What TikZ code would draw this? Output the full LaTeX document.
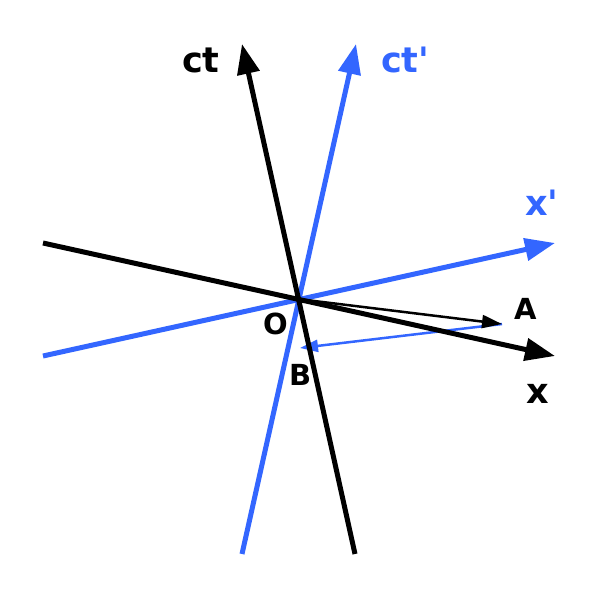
\documentclass[tikz,border=0pt]{standalone}
\usepackage{fontspec}
\newfontfamily\lblfont{DejaVu Sans}
\usetikzlibrary{arrows.meta}
\definecolor{axblue}{RGB}{51,102,255}
\tikzset{
  thickaxis/.style={line width=5pt, -{Triangle[length=30pt,width=22pt]}},
  thinvec/.style={line width=2.5pt, -{Triangle[length=20pt,width=13pt]}},
  lbl/.style={anchor=base west, inner sep=0pt, font=\lblfont\bfseries\fontsize{35pt}{35pt}\selectfont},
  ptlbl/.style={anchor=base west, inner sep=0pt, font=\lblfont\bfseries\fontsize{29pt}{29pt}\selectfont}
}
\begin{document}
\begin{tikzpicture}[x=1pt,y=-1pt]
\useasboundingbox (0,0) rectangle (600,600);
\coordinate (O) at (298,299);
\coordinate (ctS) at (355,554);
\coordinate (ctE) at (242,44);
\coordinate (xS) at (43,243);
\coordinate (xE) at (555,356);
\coordinate (cpS) at (242,554);
\coordinate (cpE) at (356,44);
\coordinate (xpS) at (43,356);
\coordinate (xpE) at (555,243);
\coordinate (A) at (502,324);
\coordinate (Bt) at (300,348);
% blue axes
\draw[axblue, thickaxis] (cpS) -- (cpE);
\draw[axblue, thickaxis] (xpS) -- (xpE);
\draw[axblue, thinvec, -{Triangle[length=18pt,width=12pt]}] (A) -- (Bt);
% black axes
\draw[black, thickaxis] (ctS) -- (ctE);
\draw[black, thickaxis] (xS) -- (xE);
\draw[black, thinvec] (O) -- (A);
% labels
\node[lbl] (lct) at (182,72) {ct};
\node[lbl, text=axblue] (lctp) at (381,72) {ct'};
\node[lbl, text=axblue] (lxp) at (525,215) {x'};
\node[ptlbl] (lA) at (514,319) {A};
\node[lbl] (lx) at (526,403) {x};
\node[ptlbl] (lO) at (263,334) {O};
\node[ptlbl] (lB) at (289,385) {B};
\end{tikzpicture}
\end{document}
